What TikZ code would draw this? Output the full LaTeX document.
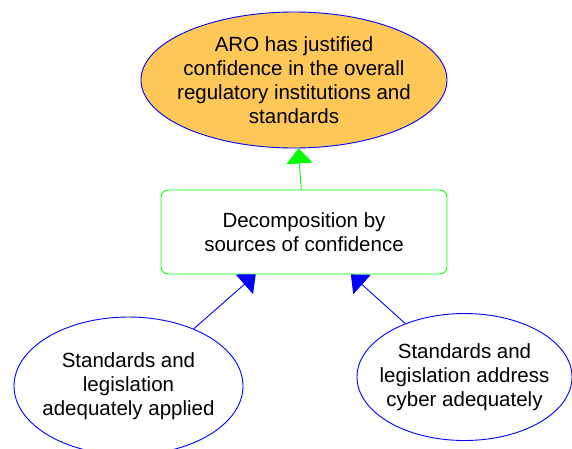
\documentclass[tikz,border=0pt]{standalone}
\usepackage{fontspec}
\setmainfont{Liberation Sans}
\usetikzlibrary{arrows.meta,shapes.geometric}
\definecolor{goalfill}{HTML}{FDC858}
\tikzset{
    goal/.style={draw=blue, line width=0.9pt, ellipse, inner xsep=-40pt, inner ysep=-30pt, align=center,
        font=\fontsize{20.5}{24}\selectfont},
    strategy/.style={draw=green, line width=0.9pt, rectangle, rounded corners=7pt, align=center,
        minimum width=286pt, minimum height=84pt, font=\fontsize{20.5}{24}\selectfont},
    blueedge/.style={draw=blue, line width=0.9pt, -{Triangle[width=26pt,length=15pt]}, blue},
    greenedge/.style={draw=green, line width=0.9pt, -{Triangle[width=26pt,length=15pt]}, green}
}
\begin{document}
\begin{tikzpicture}[x=1pt,y=-1pt]
    \useasboundingbox (0,0) rectangle (572,448);

    \node[goal, fill=goalfill, minimum width=306pt, minimum height=136pt] (top) at (294,80)
        {ARO has justified\\confidence in the overall\\regulatory institutions and\\standards};

    \node[strategy] (dec) at (304,232) {Decomposition by\\sources of confidence};

    \node[goal, minimum width=229pt, minimum height=138pt] (applied) at (128.5,386)
        {Standards and\\legislation\\adequately applied};
    \node[goal, minimum width=215pt, minimum height=127pt] (cyber) at (464.5,377)
        {Standards and\\legislation address\\cyber adequately};

    \draw[greenedge] (dec) -- (top);
    \draw[blueedge] (applied) -- (dec);
    \draw[blueedge] (cyber) -- (dec);
\end{tikzpicture}
\end{document}
